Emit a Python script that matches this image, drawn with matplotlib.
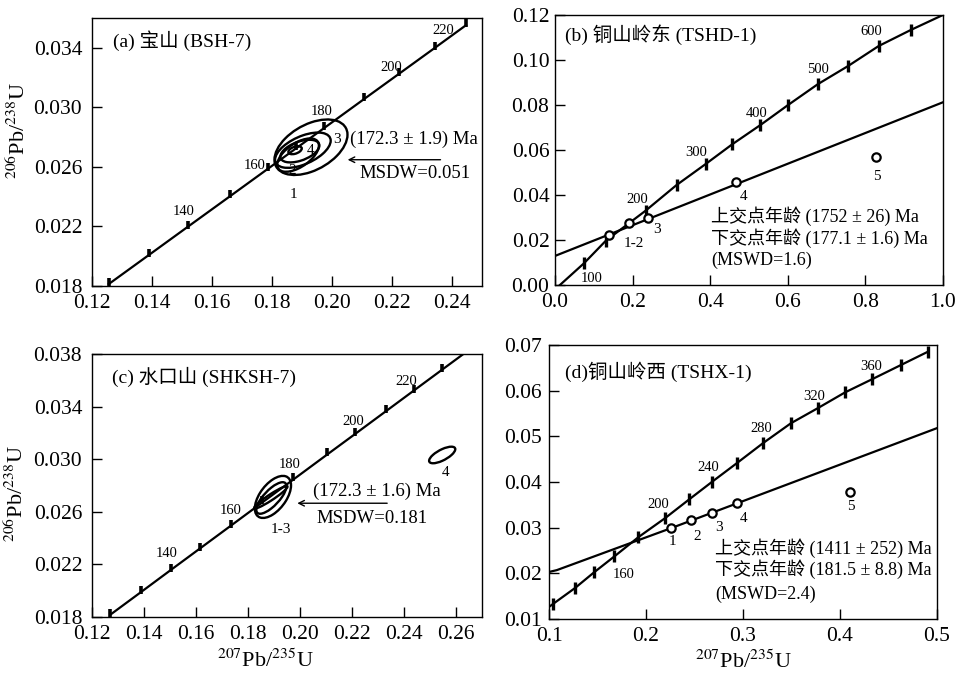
import numpy as np
import matplotlib
matplotlib.use('Agg')
import matplotlib.pyplot as plt
from matplotlib.patches import Circle
from matplotlib.path import Path
from matplotlib.transforms import Affine2D
from matplotlib.ticker import FormatStrFormatter

# 字体：Times 风格数字 + 中文回退
plt.rcParams['font.family'] = ['Liberation Serif', 'Noto Sans CJK SC']
plt.rcParams['mathtext.fontset'] = 'stix'
plt.rcParams['axes.unicode_minus'] = False

# ---------------- (a) 宝山 BSH-7 ----------------
conc_a_x = [0.1256, 0.1391, 0.1519, 0.1661, 0.1787, 0.1880, 0.1972, 0.2106, 0.2224, 0.2344, 0.2447]
conc_a_y = [0.01813, 0.02010, 0.02197, 0.02404, 0.02588, 0.02724, 0.02858, 0.03054, 0.03226, 0.03401, 0.03552]
age_lab_a = ['140', '160', '180', '200', '220']
age_lab_a_x = [0.1504, 0.1743, 0.1966, 0.2196, 0.2371]
age_lab_a_y = [0.02302, 0.02611, 0.02975, 0.03268, 0.03514]
# 误差椭圆: x, y, x半宽, y半高, 相关系数
ell_a = [(0.1930, 0.02732, 0.01217, 0.001864, 0.45),
         (0.1887, 0.02679, 0.00694, 0.001119, 0.58),
         (0.1903, 0.02712, 0.00927, 0.001185, 0.54),
         (0.1893, 0.02706, 0.00650, 0.000760, 0.49),
         (0.1877, 0.02712, 0.00223, 0.000269, 0.43)]
pt_lab_a = ['1', '2', '3', '4']
pt_lab_a_x = [0.1871, 0.1868, 0.2016, 0.1927]
pt_lab_a_y = [0.02417, 0.02574, 0.02787, 0.02710]

# ---------------- (b) 铜山岭东 TSHD-1 ----------------
conc_b_x = [0.0129, 0.0747, 0.1313, 0.2335, 0.3133, 0.3888, 0.4567, 0.5296, 0.6009, 0.6780, 0.7554, 0.8343, 0.9167, 1.0]
conc_b_y = [0.0, 0.00963, 0.0197, 0.0330, 0.0444, 0.0538, 0.0625, 0.0711, 0.0800, 0.0893, 0.0973, 0.1062, 0.1133, 0.1200]
disc_b_x = [0.0, 1.0]
disc_b_y = [0.0129, 0.0812]
pts_b_x = [0.139, 0.190, 0.2386, 0.4678, 0.8283]
pts_b_y = [0.0222, 0.0274, 0.0299, 0.0459, 0.0567]
pt_lab_b = ['1-2', '3', '4', '5']
pt_lab_b_x = [0.2034, 0.262, 0.485, 0.830]
pt_lab_b_y = [0.0185, 0.0247, 0.0393, 0.0481]
age_lab_b = ['100', '200', '300', '400', '500', '600']
age_lab_b_x = [0.094, 0.212, 0.363, 0.521, 0.678, 0.815]
age_lab_b_y = [0.0030, 0.0380, 0.0588, 0.0763, 0.0956, 0.1126]

# ---------------- (c) 水口山 SHKSH-7 ----------------
conc_c_x = [0.1271, 0.1389, 0.1505, 0.1614, 0.1734, 0.1855, 0.1975, 0.2105, 0.2213, 0.2330, 0.2438, 0.2547, 0.2628]
conc_c_y = [0.01818, 0.01990, 0.02160, 0.02319, 0.02494, 0.02671, 0.02846, 0.03036, 0.03193, 0.03364, 0.03522, 0.03681, 0.03799]
age_lab_c = ['140', '160', '180', '200', '220']
age_lab_c_x = [0.1486, 0.1734, 0.1959, 0.2204, 0.2410]
age_lab_c_y = [0.02279, 0.02606, 0.02956, 0.03285, 0.03589]
ell_c = [(0.1896, 0.02713, 0.00696, 0.00160, 0.55),
         (0.1890, 0.02705, 0.00580, 0.00120, 0.75),
         (0.1888, 0.02710, 0.00640, 0.00085, 0.95),
         (0.2547, 0.03032, 0.00503, 0.00063, 0.70)]
pt_lab_c = ['1-3', '4']
pt_lab_c_x = [0.1927, 0.2559]
pt_lab_c_y = [0.02467, 0.0290]

# ---------------- (d) 铜山岭西 TSHX-1 ----------------
conc_d_x = [0.101, 0.1045, 0.1268, 0.1464, 0.1674, 0.1922, 0.2197, 0.2448, 0.2685, 0.2936, 0.3205,
            0.3494, 0.3769, 0.4054, 0.4329, 0.4628, 0.4907]
conc_d_y = [0.0128, 0.01335, 0.01678, 0.02021, 0.02371, 0.02793, 0.03209, 0.03624, 0.04011, 0.04412, 0.04849,
            0.05287, 0.05615, 0.05965, 0.06249, 0.06562, 0.06854]
disc_d_x = [0.100, 0.108, 0.2259, 0.5]
disc_d_y = [0.0203, 0.0207, 0.0299, 0.0518]
pts_d_x = [0.2259, 0.2465, 0.2685, 0.2943, 0.4106]
pts_d_y = [0.0299, 0.0316, 0.0333, 0.0355, 0.0379]
pt_lab_d = ['1', '2', '3', '4', '5']
pt_lab_d_x = [0.2276, 0.2524, 0.2754, 0.3005, 0.4113]
pt_lab_d_y = [0.0270, 0.0281, 0.0301, 0.0319, 0.0346]
age_lab_d = ['160', '200', '240', '280', '320', '360']
age_lab_d_x = [0.1774, 0.2128, 0.2637, 0.3187, 0.3734, 0.4322]
age_lab_d_y = [0.0197, 0.0350, 0.0432, 0.0518, 0.0587, 0.0654]

YLAB = r'$^{206}$Pb/$^{238}$U'
XLAB = r'$^{207}$Pb/$^{235}$U'

# 向上的刻度短线（a, c 图）
up_tick = Path([(0, -0.3), (0, 1.0)], [Path.MOVETO, Path.LINETO])


def setup_axes(ax, xlim, xticks, xfmt, ylim, yticks, yfmt, ypad=5):
    ax.set_xlim(xlim)
    ax.set_ylim(ylim)
    ax.set_xticks(xticks)
    ax.set_yticks(yticks)
    ax.xaxis.set_major_formatter(FormatStrFormatter(xfmt))
    ax.yaxis.set_major_formatter(FormatStrFormatter(yfmt))
    ax.tick_params(direction='in', length=7, width=1, labelsize=15.5)
    ax.tick_params(axis='x', pad=6)
    ax.tick_params(axis='y', pad=ypad)
    for s in ax.spines.values():
        s.set_linewidth(1.0)


def draw_ellipse(ax, x, y, hx, hy, rho):
    m = np.array([[hx, 0, x],
                  [hy * rho, hy * np.sqrt(1 - rho ** 2), y],
                  [0, 0, 1]])
    c = Circle((0, 0), 1, transform=Affine2D(m) + ax.transData,
               fill=False, ec='black', lw=1.7)
    ax.add_patch(c)


def put_labels(ax, labels, xs, ys, size):
    for t, x, y in zip(labels, xs, ys):
        ax.text(x, y, t, fontsize=size, ha='center', va='center')


fig = plt.figure(figsize=(9.63, 6.74), dpi=100)

# ---- (a) ----
ax = fig.add_axes([0.0955, 0.5757, 0.405, 0.3976])
setup_axes(ax, (0.12, 0.25), np.arange(0.12, 0.241, 0.02), '%.2f',
           (0.018, 0.036), np.arange(0.018, 0.0341, 0.004), '%.3f', ypad=7)
ax.plot(conc_a_x, conc_a_y, 'k-', lw=1.6)
ax.plot(conc_a_x, conc_a_y, ls='none', marker=up_tick, ms=9, mew=2.6, color='k')
for e in ell_a:
    draw_ellipse(ax, *e)
put_labels(ax, age_lab_a, age_lab_a_x, age_lab_a_y, 10.5)
put_labels(ax, pt_lab_a, pt_lab_a_x, pt_lab_a_y, 11)
ax.text(0.127, 0.0345, '(a) 宝山 (BSH-7)', fontsize=14, va='center')
ax.text(0.206, 0.02787, '(172.3 ± 1.9) Ma', fontsize=13.5, va='center')
ax.text(0.2093, 0.02556, 'MSDW=0.051', fontsize=13.5, va='center')
ax.annotate('', xy=(0.2043, 0.02648), xytext=(0.2371, 0.02648),
            arrowprops=dict(arrowstyle='->', lw=1.0, color='k'))
ax.set_ylabel(YLAB, fontsize=16)
ax.yaxis.set_label_coords(-0.16, 0.58)

# ---- (b) ----
ax = fig.add_axes([0.5763, 0.5772, 0.4029, 0.4006])
setup_axes(ax, (0, 1.0), np.arange(0, 1.01, 0.2), '%.1f',
           (0, 0.12), np.arange(0, 0.121, 0.02), '%.2f', ypad=4)
ax.plot(conc_b_x, conc_b_y, 'k-', lw=1.6)
ax.plot(conc_b_x[1:-1], conc_b_y[1:-1], ls='none', marker='|', ms=9, mew=2.4, color='k')
ax.plot(disc_b_x, disc_b_y, 'k-', lw=1.6)
ax.plot(pts_b_x, pts_b_y, ls='none', marker='o', ms=6, mfc='white', mec='k', mew=1.6)
put_labels(ax, pt_lab_b, pt_lab_b_x, pt_lab_b_y, 11)
put_labels(ax, age_lab_b, age_lab_b_x, age_lab_b_y, 10.5)
ax.text(0.026, 0.1112, '(b) 铜山岭东 (TSHD-1)', fontsize=14, va='center')
ax.text(0.403, 0.0307, '上交点年龄 (1752 ± 26) Ma', fontsize=13, va='center')
ax.text(0.403, 0.0207, '下交点年龄 (177.1 ± 1.6) Ma', fontsize=13, va='center')
ax.text(0.403, 0.0111, '(MSWD=1.6)', fontsize=13, va='center')

# ---- (c) ----
ax = fig.add_axes([0.0955, 0.0846, 0.405, 0.3902])
setup_axes(ax, (0.12, 0.27), np.arange(0.12, 0.261, 0.02), '%.2f',
           (0.018, 0.038), np.arange(0.018, 0.0381, 0.004), '%.3f', ypad=7)
ax.plot(conc_c_x, conc_c_y, 'k-', lw=1.6)
ax.plot(conc_c_x[:-1], conc_c_y[:-1], ls='none', marker=up_tick, ms=9, mew=2.6, color='k')
for e in ell_c:
    draw_ellipse(ax, *e)
put_labels(ax, age_lab_c, age_lab_c_x, age_lab_c_y, 10.5)
put_labels(ax, pt_lab_c, pt_lab_c_x, pt_lab_c_y, 11)
ax.text(0.1276, 0.03627, '(c) 水口山 (SHKSH-7)', fontsize=14, va='center')
ax.text(0.2049, 0.02753, '(172.3 ± 1.6) Ma', fontsize=13.5, va='center')
ax.text(0.2062, 0.02551, 'MSDW=0.181', fontsize=13.5, va='center')
ax.annotate('', xy=(0.1979, 0.02665), xytext=(0.2346, 0.02665),
            arrowprops=dict(arrowstyle='->', lw=1.0, color='k'))
ax.set_ylabel(YLAB, fontsize=16)
ax.yaxis.set_label_coords(-0.165, 0.47)
ax.set_xlabel(XLAB, fontsize=16)
ax.xaxis.set_label_coords(0.444, -0.125)

# ---- (d) ----
ax = fig.add_axes([0.5701, 0.0816, 0.4029, 0.4065])
setup_axes(ax, (0.1, 0.5), np.arange(0.1, 0.501, 0.1), '%.1f',
           (0.01, 0.07), np.arange(0.01, 0.0701, 0.01), '%.2f', ypad=5)
ax.plot(conc_d_x, conc_d_y, 'k-', lw=1.6)
ax.plot(conc_d_x[1:], conc_d_y[1:], ls='none', marker='|', ms=9, mew=2.4, color='k')
ax.plot(disc_d_x, disc_d_y, 'k-', lw=1.6)
ax.plot(pts_d_x, pts_d_y, ls='none', marker='o', ms=6, mfc='white', mec='k', mew=1.6)
put_labels(ax, pt_lab_d, pt_lab_d_x, pt_lab_d_y, 11)
put_labels(ax, age_lab_d, age_lab_d_x, age_lab_d_y, 10.5)
ax.text(0.1165, 0.0642, '(d)铜山岭西 (TSHX-1)', fontsize=14, va='center')
ax.text(0.2713, 0.0255, '上交点年龄 (1411 ± 252) Ma', fontsize=13, va='center')
ax.text(0.2713, 0.0208, '下交点年龄 (181.5 ± 8.8) Ma', fontsize=13, va='center')
ax.text(0.2713, 0.0153, '(MSWD=2.4)', fontsize=13, va='center')
ax.set_xlabel(XLAB, fontsize=16)
ax.xaxis.set_label_coords(0.5, -0.115)

fig.savefig('out.png', dpi=100)
